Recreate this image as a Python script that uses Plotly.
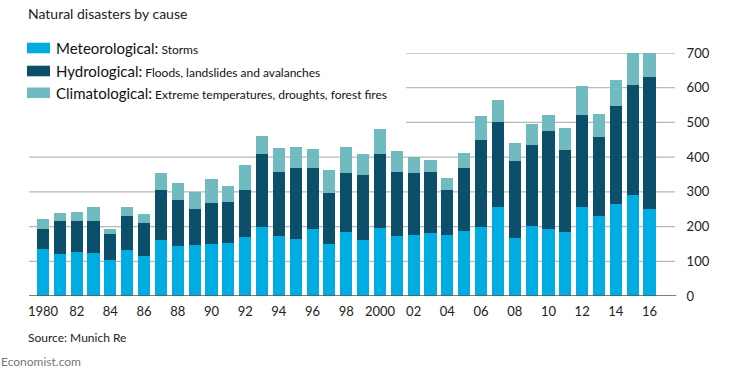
import plotly.graph_objects as go

years = list(range(1980, 2017))
meteorological = [135, 122, 127, 124, 105, 133, 115, 160, 145, 148,
                  150, 154, 169, 198, 174, 165, 192, 150, 185, 162,
                  195, 174, 175, 182, 177, 187, 200, 257, 168, 203,
                  192, 183, 255, 230, 264, 290, 251]
hydrological = [59, 93, 90, 93, 73, 97, 95, 145, 131, 102,
                118, 118, 137, 212, 182, 204, 177, 147, 168, 187,
                213, 182, 180, 176, 128, 181, 250, 245, 221, 231,
                284, 239, 267, 229, 282, 318, 380]
climatological = [27, 24, 25, 38, 15, 26, 27, 50, 50, 51,
                  70, 46, 70, 50, 70, 60, 54, 66, 76, 59,
                  72, 62, 45, 33, 35, 44, 68, 63, 53, 62,
                  44, 62, 83, 66, 75, 92, 69]
tick_years = list(range(1980, 2017, 2))
tick_text = ["1980", "82", "84", "86", "88", "90", "92", "94", "96", "98",
             "2000", "02", "04", "06", "08", "10", "12", "14", "16"]
y_ticks = [0, 100, 200, 300, 400, 500, 600, 700]

series = [
    ("Meteorological:", "Storms", meteorological, "#00ade3"),
    ("Hydrological:", "Floods, landslides and avalanches", hydrological, "#0b4f6b"),
    ("Climatological:", "Extreme temperatures, droughts, forest fires", climatological, "#6fbbc0"),
]

FONT = "Lato"
W, H = 745, 376
L, R, T, B = 29, 675, 53, 296


def px(x):
    return (x - L) / (R - L)


def py(y):
    return (B - y) / (B - T)


fig = go.Figure()
for name, desc, vals, col in series:
    fig.add_trace(go.Bar(x=years, y=vals, name=name, marker_color=col,
                         marker_line_width=0, width=0.72, showlegend=False,
                         hoverinfo="skip"))

shapes = []
# gridlines (upper ones stop short of the legend)
for v in y_ticks[1:]:
    shapes.append(dict(type="line", xref="paper", yref="y",
                       x0=px(406) if v >= 500 else 0, x1=1, y0=v, y1=v,
                       line=dict(color="#b9b9b9", width=1.3), layer="below"))
shapes.append(dict(type="line", xref="paper", yref="y", x0=0, x1=1.002, y0=0, y1=0,
                   line=dict(color="#555555", width=1.3), layer="above"))

annotations = [
    dict(text="Natural disasters by cause", xref="paper", yref="paper",
         x=px(26), y=py(13), xanchor="left", yanchor="middle", showarrow=False,
         font=dict(family=FONT, size=14, color="#222222")),
    dict(text="Source: Munich Re", xref="paper", yref="paper",
         x=px(26), y=py(337), xanchor="left", yanchor="middle", showarrow=False,
         font=dict(family=FONT, size=12, color="#222222")),
    dict(text="Economist.com", xref="paper", yref="paper",
         x=px(-1), y=py(361), xanchor="left", yanchor="middle", showarrow=False,
         font=dict(family=FONT, size=12, color="#777777")),
]

row_centers = [48, 71, 92.8]
for (name, desc, vals, col), yc in zip(series, row_centers):
    shapes.append(dict(type="rect", xref="paper", yref="paper",
                       x0=px(27), x1=px(50), y0=py(yc - 5.3), y1=py(yc + 5.3),
                       fillcolor=col, line_width=0))
    annotations.append(dict(
        text=f"<span style='font-size:15px'>{name}</span> <span style='font-size:12px'>{desc}</span>",
        xref="paper", yref="paper", x=px(54), y=py(yc), xanchor="left", yanchor="middle",
        showarrow=False, font=dict(family=FONT, size=12, color="#111111")))

fig.update_layout(
    width=W, height=H,
    margin=dict(l=L, r=W - R, t=T, b=H - B, pad=0),
    barmode="stack", bargap=0.28,
    plot_bgcolor="white", paper_bgcolor="white",
    font=dict(family=FONT, size=13, color="#222222"),
    shapes=shapes, annotations=annotations,
    hovermode=False,
    xaxis=dict(range=[1979.17, 2017.51], tickvals=tick_years, ticktext=tick_text,
               showgrid=False, zeroline=False, showline=False, ticks="outside",
               ticklen=3, tickcolor="rgba(0,0,0,0)", tickfont=dict(size=13, family=FONT)),
    yaxis=dict(range=[0, 700], side="right", tickvals=y_ticks, showgrid=False,
               zeroline=False, showline=False, ticks="outside", ticklen=8,
               tickcolor="rgba(0,0,0,0)", tickfont=dict(size=13, family=FONT)),
)

fig.write_html("out.html", config={"displayModeBar": False, "staticPlot": True},
               post_script="document.body.style.margin='0';")
